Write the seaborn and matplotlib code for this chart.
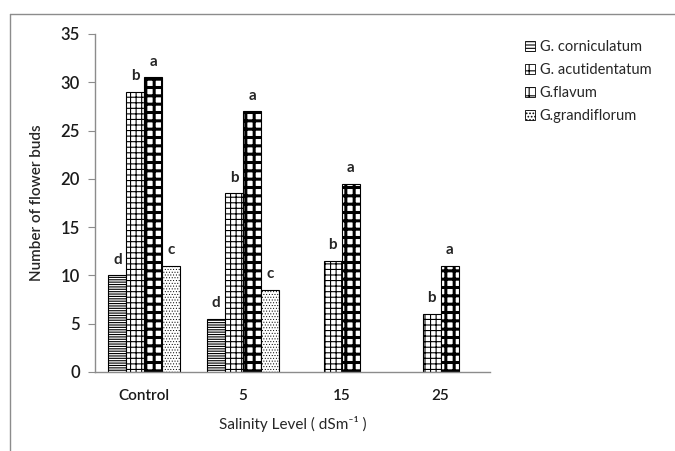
import pandas as pd
import matplotlib
matplotlib.use("Agg")
import matplotlib.pyplot as plt
import seaborn as sns
from matplotlib.lines import Line2D
from matplotlib.patches import Patch

# Data
levels = ["Control", "5", "15", "25"]
species = ["G. corniculatum", "G. acutidentatum", "G.flavum", "G.grandiflorum"]
corniculatum = [10, 5.5, 0, 0]
acutidentatum = [29, 18.5, 11.5, 6]
flavum = [30.5, 27, 19.5, 11]
grandiflorum = [11, 8.5, 0, 0]
letters = {
    "G. corniculatum": ["d", "d", "", ""],
    "G. acutidentatum": ["b", "b", "b", "b"],
    "G.flavum": ["a", "a", "a", "a"],
    "G.grandiflorum": ["c", "c", "", ""],
}

df = pd.DataFrame({
    "level": levels * 4,
    "species": [s for s in species for _ in levels],
    "buds": corniculatum + acutidentatum + flavum + grandiflorum,
})

sns.set_style("white")
plt.rcParams["font.family"] = ["Lato", "DejaVu Sans"]
plt.rcParams["hatch.color"] = "black"
plt.rcParams["hatch.linewidth"] = 0.8

fig = plt.figure(figsize=(6.75, 4.51), dpi=100)
ax = fig.add_axes([95 / 675, 79 / 451, 395 / 675, 338 / 451])

sns.barplot(data=df, x="level", y="buds", hue="species", order=levels,
            hue_order=species, width=0.73, palette=["white"] * 4,
            edgecolor="black", linewidth=0.8, legend=False, ax=ax)

hatches = ["-------", "+++", "++", "......"]
hatch_lw = [0.8, 0.8, 2.2, 0.4]
for cont, h, lw, sp in zip(ax.containers, hatches, hatch_lw, species):
    for bar, lab in zip(cont, letters[sp]):
        bar.set_hatch(h)
        if hasattr(bar, "set_hatch_linewidth"):
            bar.set_hatch_linewidth(lw)
        if bar.get_height() == 0:
            bar.set_visible(False)
            continue
        ax.text(bar.get_x() + bar.get_width() / 2, bar.get_height() + 0.9, lab,
                ha="center", va="bottom", fontsize=11, fontweight="bold")

ax.set_ylim(0, 35)
ax.set_yticks(range(0, 36, 5))
ax.set_xlim(-0.5, 3.5)
for s in ["top", "right"]:
    ax.spines[s].set_visible(False)
for s in ["left", "bottom"]:
    ax.spines[s].set_color("#8c8c8c")
    ax.spines[s].set_linewidth(1)
ax.tick_params(axis="y", left=True, length=5, color="#8c8c8c", labelsize=12, pad=6)
ax.tick_params(axis="x", bottom=False, labelsize=11, pad=9)
for t in ax.get_yticklabels() + ax.get_xticklabels():
    t.set_fontweight("semibold")
    t.set_color("#1a1a1a")
ax.set_ylabel("Number of flower buds", fontsize=11, fontweight="semibold", labelpad=12)
ax.set_xlabel("Salinity Level ( dSm\u207b\u00b9 )", fontsize=11, labelpad=9)

# legend
legend_hatch = ["-----", "++", "++", "....."]
legend_lw = [0.6, 0.6, 1.6, 0.4]
handles = []
for h, lw in zip(legend_hatch, legend_lw):
    p = Patch(facecolor="white", edgecolor="black", hatch=h, linewidth=0.6)
    if hasattr(p, "set_hatch_linewidth"):
        p.set_hatch_linewidth(lw)
    handles.append(p)
fig.legend(handles, species, loc="upper left", bbox_to_anchor=(512 / 675, 1 - 27 / 451),
           frameon=False, fontsize=10.5, handlelength=0.7, handleheight=0.7,
           handletextpad=0.3, labelspacing=0.62)

# outer border
fig.add_artist(Line2D([10 / 675, 10 / 675], [0, 1 - 14 / 451], color="#8c8c8c", lw=1))
fig.add_artist(Line2D([10 / 675, 1], [1 - 14 / 451, 1 - 14 / 451], color="#8c8c8c", lw=1))

fig.savefig("out.png", dpi=100)
